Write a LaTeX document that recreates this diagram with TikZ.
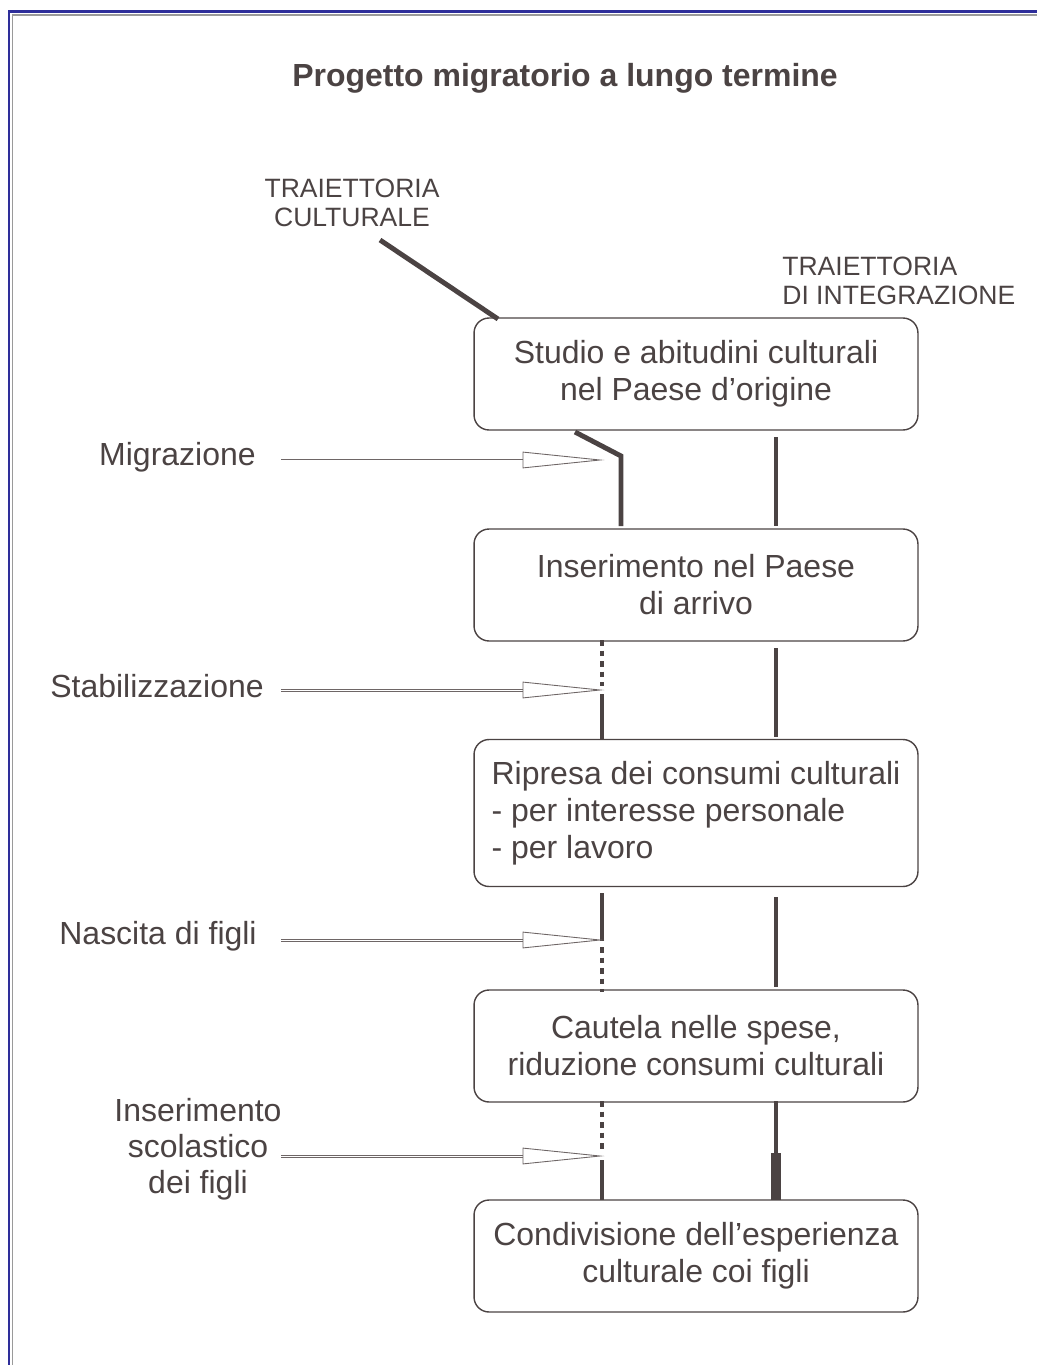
\documentclass[tikz,border=0pt]{standalone}
\usepackage{fontspec}
\setmainfont{Liberation Sans}
\usetikzlibrary{arrows.meta,positioning}
\definecolor{ink}{HTML}{4B4343}
\definecolor{shaftgray}{HTML}{6E6666}
\definecolor{frameblue}{HTML}{2E2E9A}
\definecolor{framegray}{HTML}{9A9A9A}
\tikzset{
  phase/.style={draw=ink,line width=0.8pt,rounded corners=0.3cm,minimum width=8.88cm,minimum height=2.24cm,align=center,text=ink,font=\fontsize{18.2}{21}\selectfont},
  event/.style={text=ink,inner sep=0pt,align=center,font=\fontsize{18.2}{20.4}\selectfont},
  trajlbl/.style={text=ink,inner sep=0pt,font=\fontsize{15.1}{16.6}\selectfont},
  traj/.style={draw=ink,line width=2.8pt},
  trajdot/.style={traj,dash pattern=on 3.2pt off 2.8pt},
  push/.style={draw=shaftgray,line width=1.7pt,postaction={draw=white,line width=0.5pt}},
  pushtip/.style={draw=shaftgray,fill=white,line width=0.5pt}
}
\begin{document}
\begin{tikzpicture}[x=0.02cm,y=-0.02cm]
\useasboundingbox (0,0) rectangle (1037,1365);
\draw[frameblue,line width=1.2pt] (9,1365) -- (9,11.5) -- (1037,11.5);
\draw[framegray,line width=0.8pt] (12.7,1365) -- (12.7,15) -- (1037,15);

\node[text=ink,font=\fontsize{18.2}{21}\selectfont\bfseries] (title) at (565,78) {Progetto migratorio a lungo termine};
\node[trajlbl,align=center] (cult) at (352,203) {TRAIETTORIA\\CULTURALE};
\node[trajlbl,align=left,anchor=west] (integ) at (782,281) {TRAIETTORIA\\DI INTEGRAZIONE};

\node[phase] (b1) at (696,374) {Studio e abitudini culturali\\nel Paese d'origine};
\node[phase] (b2) at (696,585) {Inserimento nel Paese\\di arrivo};
\node[phase,minimum height=2.94cm,align=left] (b3) at (696,813) {Ripresa dei consumi culturali\\- per interesse personale\\- per lavoro};
\node[phase] (b4) at (696,1046) {Cautela nelle spese,\\riduzione consumi culturali};
\node[phase] (b5) at (696,1256) {Condivisione dell'esperienza\\culturale coi figli};

\node[event,anchor=east] (mig) at (256,457) {Migrazione};
\node[event,anchor=east] (stab) at (264,686) {Stabilizzazione};
\node[event,anchor=east] (nasc) at (257,936) {Nascita di figli};
\node[event] (scol) at (198,1149) {Inserimento\\scolastico\\dei figli};

\coordinate (c0) at (380,240);
\coordinate (c1) at (498,319);
\coordinate (l1a) at (575,432);
\coordinate (l1b) at (621,456);
\coordinate (l1c) at (621,526);
\coordinate (s1) at (281,460);
\coordinate (s2) at (281,690);
\coordinate (s3) at (281,940);
\coordinate (s4) at (281,1156);
\coordinate (h1) at (523,460);
\coordinate (h2) at (523,690);
\coordinate (h3) at (523,940);
\coordinate (h4) at (523,1156);
\coordinate (t1) at (600,460);
\coordinate (t2) at (600,690);
\coordinate (t3) at (600,940);
\coordinate (t4) at (600,1156);

\draw[traj] (c0) -- (c1);
\draw[traj] (l1a) -- (l1b) -- (l1c);
\draw[trajdot] (602,640) -- (602,686);
\draw[traj] (602,694) -- (602,740);
\draw[traj] (602,893) -- (602,941);
\draw[trajdot] (602,947) -- (602,992);
\draw[trajdot] (602,1101) -- (602,1151);
\draw[traj] (602,1160) -- (602,1200);

\draw[traj] (776,437) -- (776,526);
\draw[traj] (776,648) -- (776,737);
\draw[traj] (776,897) -- (776,987);
\draw[traj] (776,1101) -- (776,1153);
\draw[traj,line width=5.4pt] (776,1153) -- (776,1200);

\draw[push] (s1) -- (h1);
\draw[push] (s2) -- (h2);
\draw[push] (s3) -- (h3);
\draw[push] (s4) -- (h4);
\draw[pushtip] (t1) -- ([yshift=-4.5pt]h1) -- ([yshift=4.5pt]h1) -- cycle;
\draw[pushtip] (t2) -- ([yshift=-4.5pt]h2) -- ([yshift=4.5pt]h2) -- cycle;
\draw[pushtip] (t3) -- ([yshift=-4.5pt]h3) -- ([yshift=4.5pt]h3) -- cycle;
\draw[pushtip] (t4) -- ([yshift=-4.5pt]h4) -- ([yshift=4.5pt]h4) -- cycle;
\end{tikzpicture}
\end{document}
